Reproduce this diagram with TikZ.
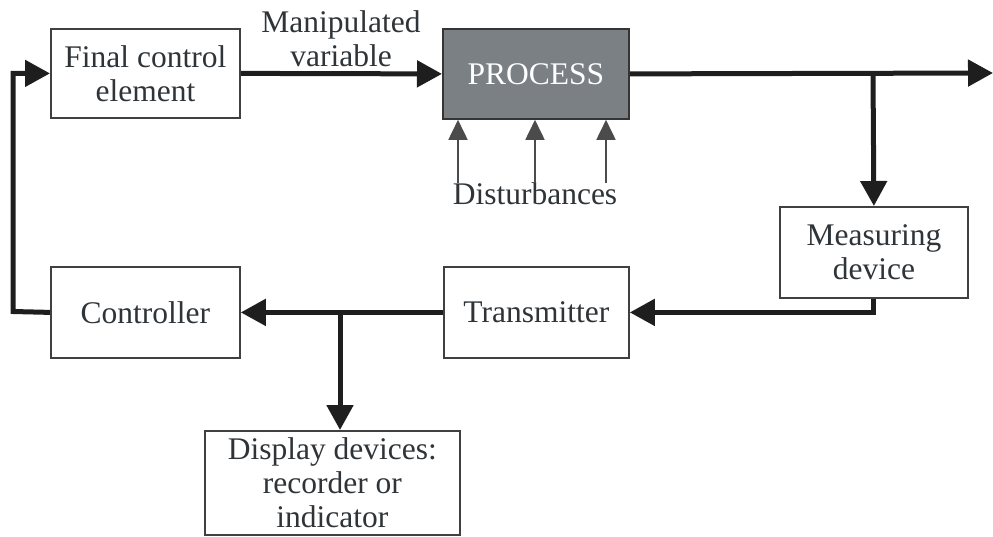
\documentclass[tikz,border=0pt]{standalone}
\usepackage{fontspec}
\setmainfont{Liberation Serif}
\usetikzlibrary{arrows.meta}
\definecolor{ink}{HTML}{1E1E1E}
\definecolor{txt}{HTML}{2E3438}
\definecolor{procfill}{HTML}{7B8084}
\tikzset{
  blk/.style={draw=ink!85, line width=1.8pt, inner sep=0pt, align=center, anchor=north west,
    text=txt, font=\fontsize{31.5}{34}\selectfont},
  lbl/.style={text=txt, align=center, inner sep=0pt, font=\fontsize{31.5}{34}\selectfont},
  flow/.style={draw=ink, line width=5pt, -{Triangle[length=25pt,width=26pt]}},
  dist/.style={draw=ink!80, line width=1.8pt, -{Triangle[length=20pt,width=19pt]}}
}
\begin{document}
\begin{tikzpicture}[x=1pt,y=-1pt]
\useasboundingbox (0,0) rectangle (993,536);
\node[blk, minimum width=189pt, minimum height=89pt] (fce) at (50,28) {Final control\\element};
\node[blk, minimum width=186pt, minimum height=90pt, fill=procfill, draw=ink!90, text=white] (proc) at (442,28) {PROCESS};
\node[blk, minimum width=188pt, minimum height=91pt] (meas) at (779,206) {Measuring\\device};
\node[blk, minimum width=185pt, minimum height=91pt] (trans) at (443,266) {Transmitter};
\node[blk, minimum width=189pt, minimum height=91pt] (ctrl) at (50,266) {Controller};
\node[blk, minimum width=255pt, minimum height=104pt] (disp) at (204,430) {Display devices:\\recorder or\\indicator};
\node[lbl] (mv) at (341,39) {Manipulated\\variable};
\node[lbl] (dtxt) at (535,194) {Disturbances};
\coordinate (out) at (993,73);
\coordinate (b1) at (873,73);
\coordinate (b2) at (340,311.5);
\coordinate (c1) at (13,311.5);
\coordinate (d1) at (458,183);
\coordinate (d2) at (535,183);
\coordinate (d3) at (606,183);
\draw[flow] (fce.east) -- (proc.west);
\draw[flow] (proc.east) -- (out);
\draw[flow] (b1) -- (meas.north);
\draw[flow] (meas.south) |- (trans.east);
\draw[flow] (trans.west) -- (ctrl.east);
\draw[flow] (b2) -- (b2 |- disp.north);
\draw[flow] (ctrl.west) -- (c1) |- (fce.west);
\draw[dist] (d1) -- (d1 |- proc.south);
\draw[dist] (d2) -- (d2 |- proc.south);
\draw[dist] (d3) -- (d3 |- proc.south);
\end{tikzpicture}
\end{document}
